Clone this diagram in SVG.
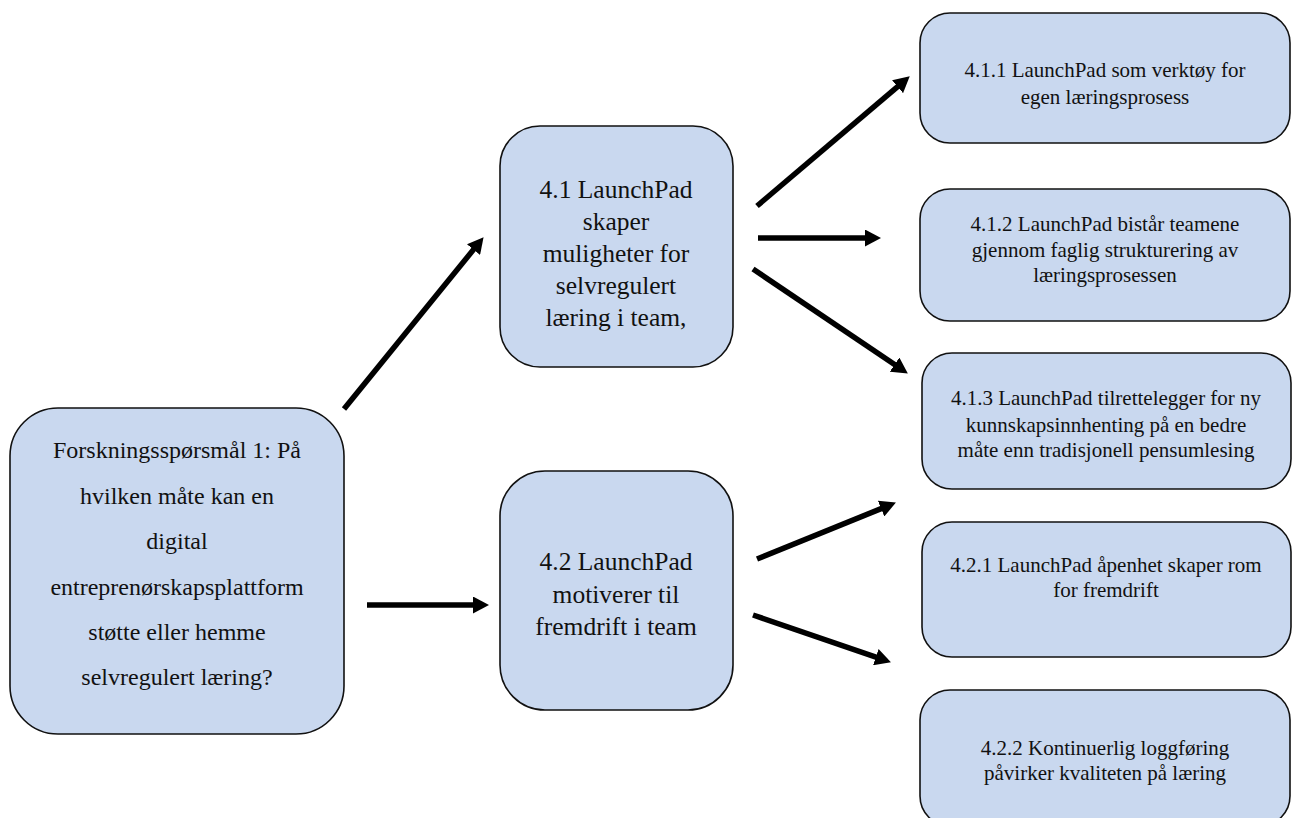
<svg xmlns="http://www.w3.org/2000/svg" width="1292" height="818" viewBox="0 0 1292 818">
<style>
.box{fill:#C9D8EF;stroke:#111;stroke-width:1.6}
.t{font-family:"Liberation Serif","Times New Roman",serif;fill:#111;text-anchor:middle}
.big{font-size:24px}
.mid{font-size:25.5px}
.sm{font-size:21px}
.c{stroke:#000;stroke-width:5.5;fill:none;marker-end:url(#ah)}
</style>
<defs>
<marker id="ah" markerUnits="userSpaceOnUse" markerWidth="16" markerHeight="17" viewBox="0 0 16 17" refX="4" refY="8.5" orient="auto">
<path d="M0,0 L16,8.5 L0,17 z" fill="#000"/>
</marker>
</defs>
<rect width="1292" height="818" fill="#fff"/>
<g id="connectors">
<line class="c" x1="344" y1="409" x2="476" y2="246.5"/>
<line class="c" x1="367" y1="605" x2="477" y2="605"/>
<line class="c" x1="757" y1="206" x2="900.6" y2="84.1"/>
<line class="c" x1="758" y1="238" x2="869" y2="238"/>
<line class="c" x1="753" y1="269" x2="897.9" y2="366.8"/>
<line class="c" x1="757" y1="559" x2="884.8" y2="507.1"/>
<line class="c" x1="753" y1="615" x2="879.6" y2="658.4"/>
</g>
<g id="rq">
<rect class="box" x="10" y="408" width="334" height="326" rx="48"/>
<text class="t big"><tspan x="177" y="458">Forskningsspørsmål 1: På</tspan><tspan x="177" y="504">hvilken måte kan en</tspan><tspan x="177" y="549">digital</tspan><tspan x="177" y="595">entreprenørskapsplattform</tspan><tspan x="177" y="640">støtte eller hemme</tspan><tspan x="177" y="685">selvregulert læring?</tspan></text>
</g>
<g id="n41">
<rect class="box" x="500" y="126" width="233" height="241" rx="40"/>
<text class="t mid"><tspan x="616" y="198">4.1 LaunchPad</tspan><tspan x="616" y="230">skaper</tspan><tspan x="616" y="262">muligheter for</tspan><tspan x="616" y="294">selvregulert</tspan><tspan x="616" y="326">læring i team,</tspan></text>
</g>
<g id="n42">
<rect class="box" x="500" y="471" width="233" height="239" rx="45"/>
<text class="t mid"><tspan x="616" y="570">4.2 LaunchPad</tspan><tspan x="616" y="603">motiverer til</tspan><tspan x="616" y="635">fremdrift i team</tspan></text>
</g>
<g id="n411">
<rect class="box" x="920" y="13" width="370" height="130" rx="30"/>
<text class="t sm"><tspan x="1105" y="77">4.1.1 LaunchPad som verktøy for</tspan><tspan x="1105" y="104">egen læringsprosess</tspan></text>
</g>
<g id="n412">
<rect class="box" x="920" y="189" width="370" height="132" rx="30"/>
<text class="t sm"><tspan x="1105" y="231">4.1.2 LaunchPad bistår teamene</tspan><tspan x="1105" y="257">gjennom faglig strukturering av</tspan><tspan x="1105" y="282">læringsprosessen</tspan></text>
</g>
<g id="n413">
<rect class="box" x="922" y="353" width="369" height="136" rx="30"/>
<text class="t sm"><tspan x="1106" y="405">4.1.3 LaunchPad tilrettelegger for ny</tspan><tspan x="1106" y="432">kunnskapsinnhenting på en bedre</tspan><tspan x="1106" y="457">måte enn tradisjonell pensumlesing</tspan></text>
</g>
<g id="n421">
<rect class="box" x="922" y="522" width="369" height="135" rx="30"/>
<text class="t sm"><tspan x="1106" y="572">4.2.1 LaunchPad åpenhet skaper rom</tspan><tspan x="1106" y="597">for fremdrift</tspan></text>
</g>
<g id="n422">
<rect class="box" x="920" y="690" width="370" height="136" rx="30"/>
<text class="t sm"><tspan x="1105" y="755">4.2.2 Kontinuerlig loggføring</tspan><tspan x="1105" y="780">påvirker kvaliteten på læring</tspan></text>
</g>
</svg>
